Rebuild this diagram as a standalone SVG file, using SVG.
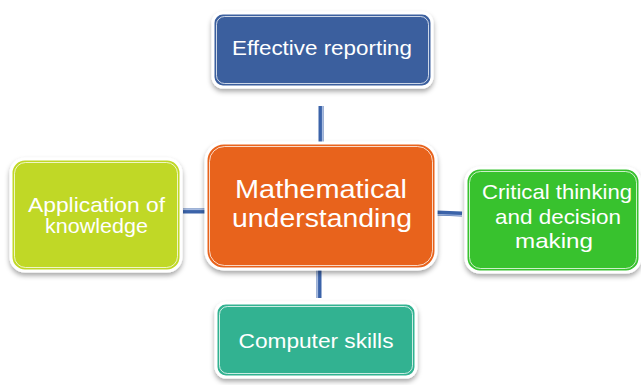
<svg xmlns="http://www.w3.org/2000/svg" width="641" height="385" viewBox="0 0 641 385">
  <defs>
    <filter id="shadow" x="-10%" y="-10%" width="120%" height="130%">
      <feDropShadow dx="0" dy="3" stdDeviation="2.5" flood-color="#000" flood-opacity="0.35"/>
    </filter>
  </defs>
  <style>
    .box { stroke: #ffffff; stroke-width: 3; filter: url(#shadow); }
    .inner { fill: none; stroke: #ffffff; stroke-opacity: 0.75; stroke-width: 1; }
    .lbl { font-family: "Liberation Sans", Arial, sans-serif; fill: #ffffff; text-anchor: middle; }
    .conn { stroke: #3B63A9; stroke-width: 5; fill: none; }
    .connhi { stroke: #A9BCE0; stroke-width: 1.2; fill: none; }
  </style>

  <!-- connectors -->
  <g id="connectors">
    <line class="conn" x1="321" y1="106" x2="321" y2="142"/>
    <line class="connhi" x1="322.5" y1="106" x2="322.5" y2="142"/>
    <line class="conn" x1="183" y1="211" x2="207" y2="211"/>
    <line class="connhi" x1="183" y1="209.5" x2="207" y2="209.5"/>
    <line class="conn" x1="437" y1="213" x2="462" y2="214"/>
    <line class="connhi" x1="437" y1="214.5" x2="462" y2="215.5"/>
    <line class="conn" x1="319" y1="270" x2="319" y2="298"/>
    <line class="connhi" x1="317.5" y1="270" x2="317.5" y2="298"/>
  </g>

  <!-- top: Effective reporting -->
  <g id="node-reporting">
    <rect class="box" x="213" y="13" width="219" height="74" rx="10" fill="#3A5F9E"/>
    <rect class="inner" x="216.5" y="16.5" width="212" height="67" rx="8"/>
    <text class="lbl" x="322" y="55" font-size="21" textLength="180" lengthAdjust="spacingAndGlyphs">Effective reporting</text>
  </g>

  <!-- centre: Mathematical understanding -->
  <g id="node-math">
    <rect class="box" x="206" y="143" width="230" height="126" rx="18" fill="#E8641E"/>
    <rect class="inner" x="209.5" y="146.5" width="223" height="119" rx="15"/>
    <text class="lbl" x="321" y="198" font-size="26" textLength="172" lengthAdjust="spacingAndGlyphs">Mathematical</text>
    <text class="lbl" x="322" y="227" font-size="26" textLength="180" lengthAdjust="spacingAndGlyphs">understanding</text>
  </g>

  <!-- left: Application of knowledge -->
  <g id="node-application">
    <rect class="box" x="11" y="159" width="170" height="112" rx="14" fill="#C0D826"/>
    <rect class="inner" x="14.5" y="162.5" width="163" height="105" rx="11"/>
    <text class="lbl" x="96.5" y="212" font-size="21" textLength="137" lengthAdjust="spacingAndGlyphs">Application of</text>
    <text class="lbl" x="96.5" y="233" font-size="21" textLength="103" lengthAdjust="spacingAndGlyphs">knowledge</text>
  </g>

  <!-- right: Critical thinking and decision making -->
  <g id="node-critical">
    <rect class="box" x="466" y="168" width="174" height="104" rx="14" fill="#37C22F"/>
    <rect class="inner" x="469.5" y="171.5" width="167" height="97" rx="11"/>
    <text class="lbl" x="557" y="199" font-size="21" textLength="150" lengthAdjust="spacingAndGlyphs">Critical thinking</text>
    <text class="lbl" x="558" y="224" font-size="21" textLength="126" lengthAdjust="spacingAndGlyphs">and decision</text>
    <text class="lbl" x="554" y="248" font-size="21" textLength="78" lengthAdjust="spacingAndGlyphs">making</text>
  </g>

  <!-- bottom: Computer skills -->
  <g id="node-computer">
    <rect class="box" x="216" y="303" width="200" height="74" rx="10" fill="#32B291"/>
    <rect class="inner" x="219.5" y="306.5" width="193" height="67" rx="8"/>
    <text class="lbl" x="316" y="348" font-size="21" textLength="155" lengthAdjust="spacingAndGlyphs">Computer skills</text>
  </g>
</svg>
